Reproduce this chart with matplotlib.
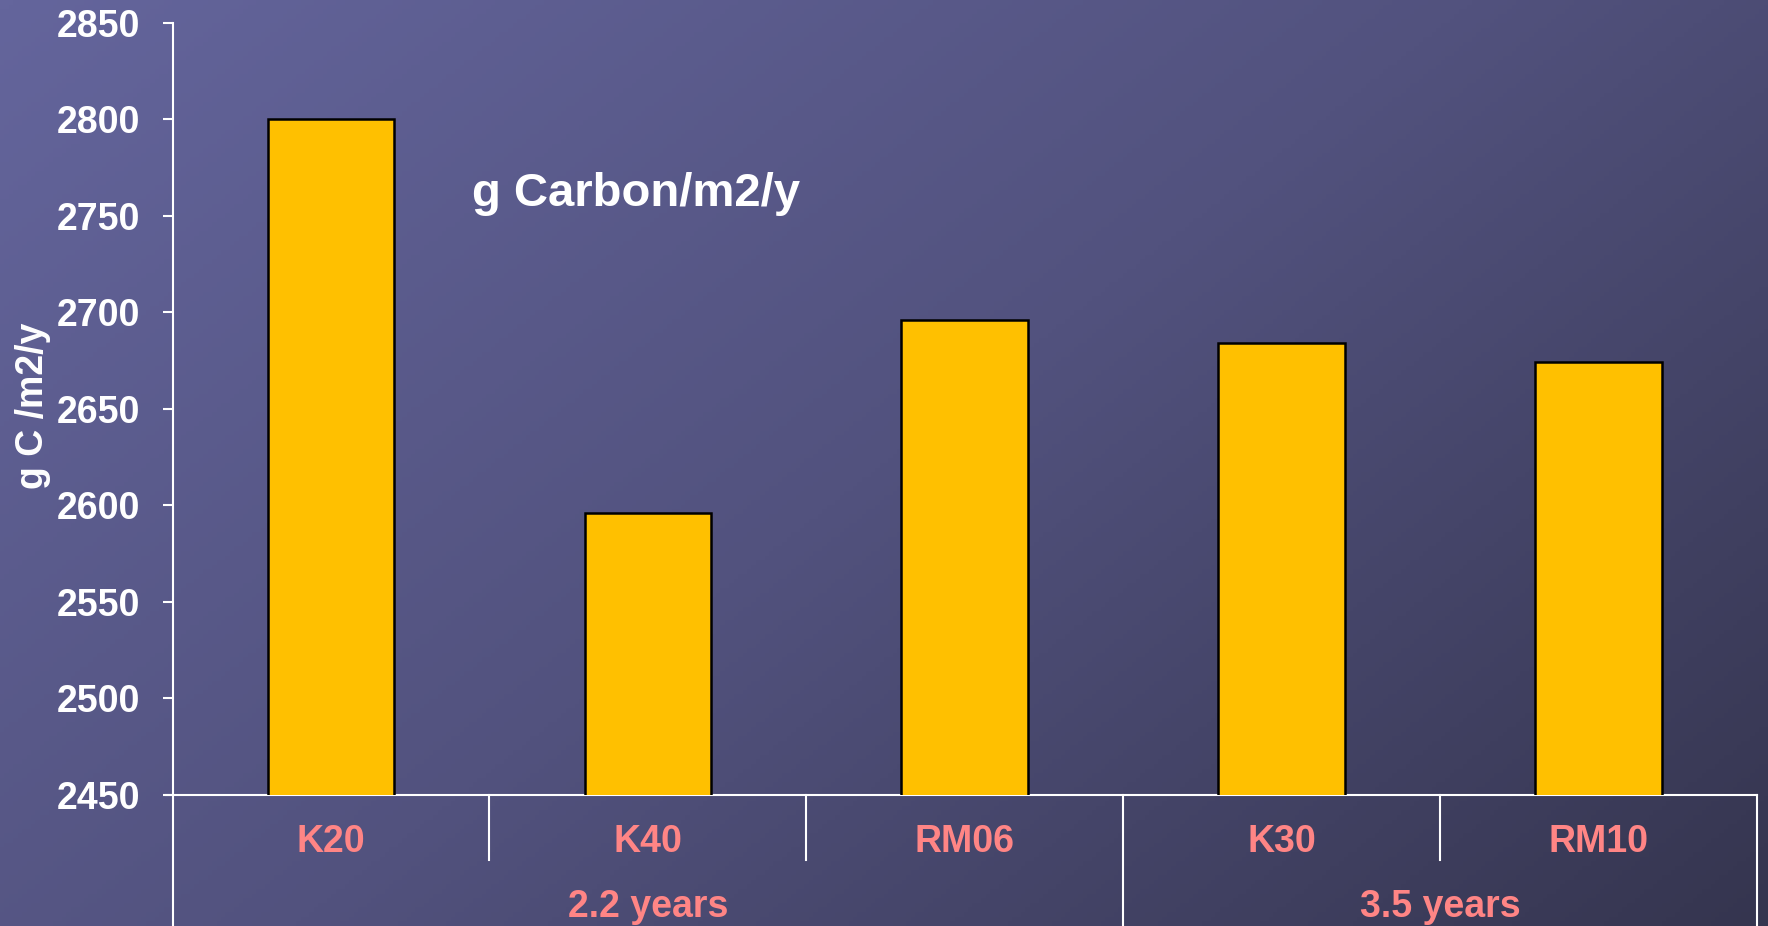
import numpy as np
import matplotlib
matplotlib.use("Agg")
import matplotlib.pyplot as plt
from matplotlib.colors import LinearSegmentedColormap

plt.rcParams['font.family'] = ['Liberation Sans', 'DejaVu Sans']
plt.rcParams['font.weight'] = 'bold'

# carbon per site
sites = ["K20", "K40", "RM06", "K30", "RM10"]
carbon = [2800, 2596, 2696, 2684, 2674]
groups = ["2.2 years", "3.5 years"]
group_sizes = [3, 2]

yticks = [2450, 2500, 2550, 2600, 2650, 2700, 2750, 2800, 2850]

fig = plt.figure(figsize=(17.68, 9.26), dpi=100)

# slide background: diagonal gradient
bg = fig.add_axes([0, 0, 1, 1], zorder=-1)
gx, gy = np.meshgrid(np.linspace(0, 1, 400), np.linspace(0, 1, 200))
grad = 0.6 * gx + 0.4 * gy
cmap = LinearSegmentedColormap.from_list("slide", ["#64659c", "#52527e", "#35354f"])
bg.imshow(grad, cmap=cmap, aspect="auto", extent=[0, 1, 0, 1], origin="upper")
bg.axis("off")

ax = fig.add_axes([0.0976, 0.1415, 0.8962, 0.8342])
ax.set_facecolor("none")

x = np.arange(len(sites))
ax.bar(x, carbon, width=0.4, color="#FFC000", edgecolor="black", linewidth=1.8, zorder=3)

ax.set_xlim(-0.5, len(sites) - 0.5)
ax.set_ylim(2450, 2850)
ax.set_yticks(yticks)
ax.set_yticklabels([str(v) for v in yticks])
ax.tick_params(axis="y", colors="white", labelsize=27, length=7, width=1.5, pad=16)
ax.set_xticks([])

for s in ["top", "right", "bottom"]:
    ax.spines[s].set_visible(False)
ax.spines["left"].set_color("white")
ax.spines["left"].set_linewidth(1.5)

ax.set_ylabel("g C /m2/y", color="white", fontsize=27, fontweight="bold")
ax.yaxis.set_label_coords(-0.0767, 0.504)

ax.text(0.2925, 0.778, "g Carbon/m2/y", transform=ax.transAxes, color="white",
        fontsize=34, fontweight="bold", ha="center", va="center")

# two-level category axis
tr = ax.get_xaxis_transform()
lc = "white"
ax.plot([-0.52, len(sites) - 0.5], [0, 0], transform=tr, color=lc, lw=1.5, clip_on=False)
for i, name in enumerate(sites):
    ax.text(i, -0.061, name, transform=tr, color="#ff8585", fontsize=27,
            fontweight="bold", ha="center", va="center")

start = 0
bounds = [-0.5]
for g, n in zip(groups, group_sizes):
    ax.text(start + (n - 1) / 2, -0.145, g, transform=tr, color="#ff8585", fontsize=27,
            fontweight="bold", ha="center", va="center")
    for k in range(1, n):
        ax.plot([start + k - 0.5] * 2, [0, -0.084], transform=tr, color=lc, lw=1.5, clip_on=False)
    start += n
    bounds.append(start - 0.5)
for b in bounds:
    ax.plot([b, b], [0, -0.2], transform=tr, color=lc, lw=1.5, clip_on=False)

fig.savefig("out.png", dpi=100)
